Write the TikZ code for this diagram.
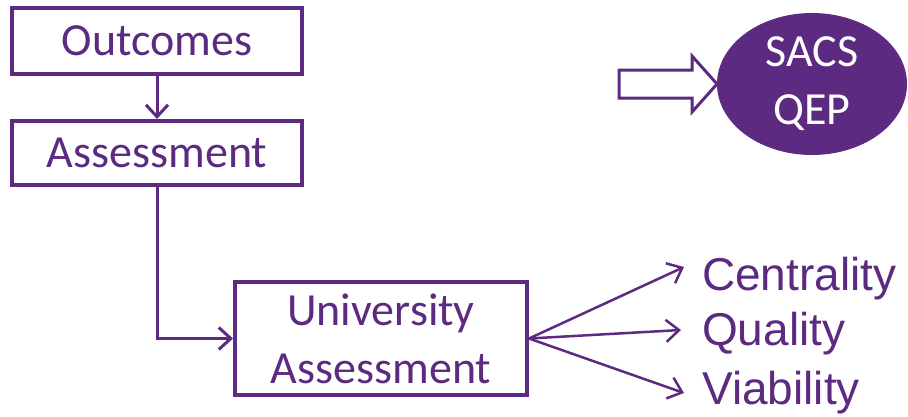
\documentclass[tikz,border=0pt]{standalone}
\usepackage{fontspec}
\setmainfont{Carlito}
\newfontfamily\arialfont{Liberation Sans}
\usetikzlibrary{arrows.meta,shapes.geometric}
\definecolor{uvpurple}{RGB}{92,42,128}
\tikzset{
  flowbox/.style={draw=uvpurple, line width=4pt, fill=white, text=uvpurple,
    font=\fontsize{46}{58}\selectfont, align=center, inner sep=0pt},
  link/.style={draw=uvpurple, line width=3pt,
    -{Straight Barb[length=12pt,width=22pt,line width=3pt]}},
  fan/.style={draw=uvpurple, line width=2.5pt,
    -{Straight Barb[length=13pt,width=22pt,line width=2.5pt]}},
  outlabel/.style={text=uvpurple, font=\arialfont\fontsize{46}{50}\selectfont,
    anchor=base west, inner sep=0pt},
}
\begin{document}
\begin{tikzpicture}[x=1pt,y=-1pt]
  \useasboundingbox (0,0) rectangle (908,416);

  % process boxes
  \node[flowbox, minimum width=290pt, minimum height=66pt] (out) at (157,41) {Outcomes};
  \node[flowbox, minimum width=290pt, minimum height=64pt] (ass) at (157,153) {Assessment};
  \node[flowbox, minimum width=292pt, minimum height=113pt] (uni) at (381,338.5)
    {University\\Assessment};

  % flow between boxes
  \draw[link] (out.south) -- (ass.north);
  \draw[link] (ass.south) |- (uni.west);

  % outcome labels
  \node[outlabel] (cen) at (702,290) {Centrality};
  \node[outlabel] (qua) at (702,345) {Quality};
  \node[outlabel] (via) at (702,404) {Viability};
  \coordinate (cenTip) at (684,267);
  \coordinate (quaTip) at (681,330);
  \coordinate (viaTip) at (684,393);
  \draw[fan] (uni.east) -- (cenTip);
  \draw[fan] (uni.east) -- (quaTip);
  \draw[fan] (uni.east) -- (viaTip);

  % SACS QEP ellipse
  \node[ellipse, fill=uvpurple, text=white, minimum width=190pt, minimum height=142pt,
    inner sep=0pt, align=center, font=\fontsize{46}{58}\selectfont] (qep) at (812,84)
    {SACS\\QEP};

  % hollow block arrow pointing at the ellipse
  \coordinate (b1) at (619,70);
  \coordinate (b2) at (692,70);
  \coordinate (b3) at (692,56);
  \coordinate (b4) at (717,84);
  \coordinate (b5) at (692,112);
  \coordinate (b6) at (692,98);
  \coordinate (b7) at (619,98);
  \draw[uvpurple, line width=3pt, fill=white, line join=miter]
    (b1) -- (b2) -- (b3) -- (b4) -- (b5) -- (b6) -- (b7) -- cycle;
\end{tikzpicture}
\end{document}
